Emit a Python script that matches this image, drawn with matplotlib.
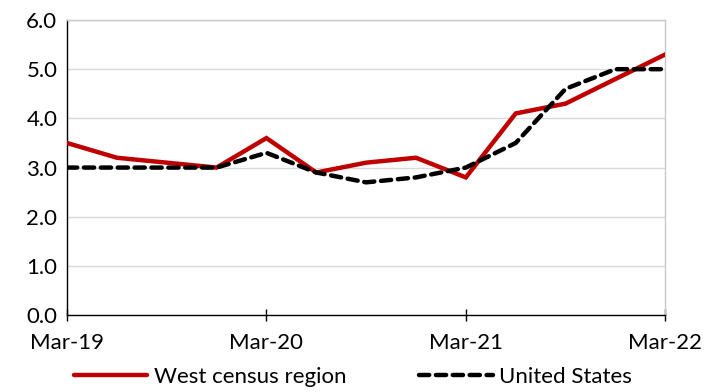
import matplotlib
matplotlib.use("Agg")
import matplotlib.pyplot as plt

quarters = ["Mar-19", "Jun-19", "Sep-19", "Dec-19", "Mar-20", "Jun-20", "Sep-20",
            "Dec-20", "Mar-21", "Jun-21", "Sep-21", "Dec-21", "Mar-22"]
west = [3.5, 3.2, 3.1, 3.0, 3.6, 2.9, 3.1, 3.2, 2.8, 4.1, 4.3, 4.8, 5.3]
us = [3.0, 3.0, 3.0, 3.0, 3.3, 2.9, 2.7, 2.8, 3.0, 3.5, 4.6, 5.0, 5.0]
tick_labels = ["Mar-19", "Mar-20", "Mar-21", "Mar-22"]
y_ticks = [0, 1, 2, 3, 4, 5, 6]

plt.rcParams['font.family'] = ['Lato', 'DejaVu Sans']
FS = 16

fig = plt.figure(figsize=(7.13, 3.92), dpi=100)
ax = fig.add_axes([0.094, 0.196, 0.839, 0.753])

x = list(range(len(quarters)))
ax.plot(x, west, color="#C00000", lw=3.2, solid_capstyle="round", solid_joinstyle="miter",
        label="West census region", zorder=3)
ax.plot(x, us, color="black", lw=3.2, linestyle=(0, (2.3, 1.5)), dash_capstyle="round",
        label="United States", zorder=4)

ax.set_xlim(0, len(quarters) - 1)
ax.set_ylim(0, 6)
ax.set_yticks(y_ticks)
ax.set_yticklabels([f"{v:.1f}" for v in y_ticks], fontsize=FS)
tick_pos = [quarters.index(t) for t in tick_labels]
ax.set_xticks(tick_pos)
ax.set_xticklabels(tick_labels, fontsize=FS)
ax.tick_params(axis="x", direction="inout", length=8, width=1, pad=9)
ax.tick_params(axis="y", length=0, pad=7)

ax.grid(axis="y", color="#D9D9D9", lw=1)
ax.set_axisbelow(True)
for s in ["top", "right"]:
    ax.spines[s].set_color("#C8C8C8")
    ax.spines[s].set_linewidth(1)
for s in ["left", "bottom"]:
    ax.spines[s].set_color("black")
    ax.spines[s].set_linewidth(1)

fig.legend(loc="center", bbox_to_anchor=(0.495, 0.038), ncol=2, frameon=False,
           fontsize=FS, handlelength=3.3, columnspacing=3.3, handletextpad=0.3,
           borderpad=0, borderaxespad=0)

fig.savefig("out.png", dpi=100)
